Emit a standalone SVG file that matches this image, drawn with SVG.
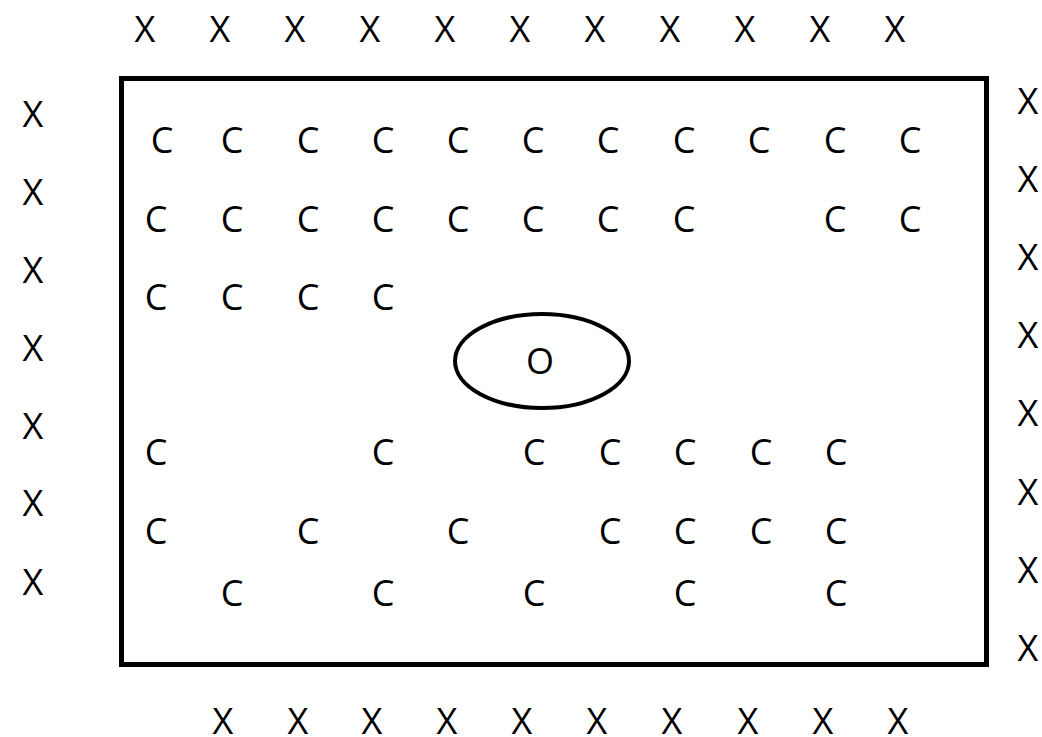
<svg xmlns="http://www.w3.org/2000/svg" width="1042" height="737" viewBox="0 0 1042 737">
<style>
text{font-family:"Open Sans","Liberation Sans",sans-serif;font-size:36px;fill:#000;text-anchor:middle}
.box{fill:none;stroke:#000;stroke-width:5}
.ell{fill:none;stroke:#000;stroke-width:4}
</style>
<rect width="1042" height="737" fill="#fff"/>
<g id="boundary"><rect class="box" x="121.5" y="78.5" width="865" height="586"/></g>
<g id="center-o"><ellipse class="ell" cx="542" cy="361" rx="87" ry="47"/><text x="540" y="374">O</text></g>
<g id="x-top">
<text x="145" y="42">X</text><text x="220" y="42">X</text><text x="295" y="42">X</text><text x="370" y="42">X</text><text x="445" y="42">X</text><text x="520" y="42">X</text><text x="595" y="42">X</text><text x="670" y="42">X</text><text x="745" y="42">X</text><text x="820" y="42">X</text><text x="895" y="42">X</text>
</g>
<g id="x-left">
<text x="33" y="127">X</text><text x="33" y="205">X</text><text x="33" y="283">X</text><text x="33" y="361">X</text><text x="33" y="439">X</text><text x="33" y="516">X</text><text x="33" y="595">X</text>
</g>
<g id="x-right">
<text x="1028" y="114">X</text><text x="1028" y="192">X</text><text x="1028" y="270">X</text><text x="1028" y="348">X</text><text x="1028" y="426">X</text><text x="1028" y="505">X</text><text x="1028" y="583">X</text><text x="1028" y="661">X</text>
</g>
<g id="x-bottom">
<text x="223" y="734">X</text><text x="298" y="734">X</text><text x="372" y="734">X</text><text x="447" y="734">X</text><text x="522" y="734">X</text><text x="597" y="734">X</text><text x="672" y="734">X</text><text x="748" y="734">X</text><text x="823" y="734">X</text><text x="898" y="734">X</text>
</g>
<g id="c-row1">
<text x="162" y="153">C</text><text x="232" y="153">C</text><text x="308" y="153">C</text><text x="383" y="153">C</text><text x="458" y="153">C</text><text x="533" y="153">C</text><text x="608" y="153">C</text><text x="684" y="153">C</text><text x="759" y="153">C</text><text x="835" y="153">C</text><text x="910" y="153">C</text>
</g>
<g id="c-row2">
<text x="156" y="232">C</text><text x="232" y="232">C</text><text x="308" y="232">C</text><text x="383" y="232">C</text><text x="458" y="232">C</text><text x="533" y="232">C</text><text x="608" y="232">C</text><text x="684" y="232">C</text><text x="835" y="232">C</text><text x="910" y="232">C</text>
</g>
<g id="c-row3">
<text x="156" y="310">C</text><text x="232" y="310">C</text><text x="308" y="310">C</text><text x="383" y="310">C</text>
</g>
<g id="c-row4">
<text x="156" y="465">C</text><text x="383" y="465">C</text><text x="534" y="465">C</text><text x="610" y="465">C</text><text x="685" y="465">C</text><text x="761" y="465">C</text><text x="836" y="465">C</text>
</g>
<g id="c-row5">
<text x="156" y="544">C</text><text x="308" y="544">C</text><text x="458" y="544">C</text><text x="610" y="544">C</text><text x="685" y="544">C</text><text x="761" y="544">C</text><text x="836" y="544">C</text>
</g>
<g id="c-row6">
<text x="232" y="606">C</text><text x="383" y="606">C</text><text x="534" y="606">C</text><text x="685" y="606">C</text><text x="836" y="606">C</text>
</g>
</svg>
